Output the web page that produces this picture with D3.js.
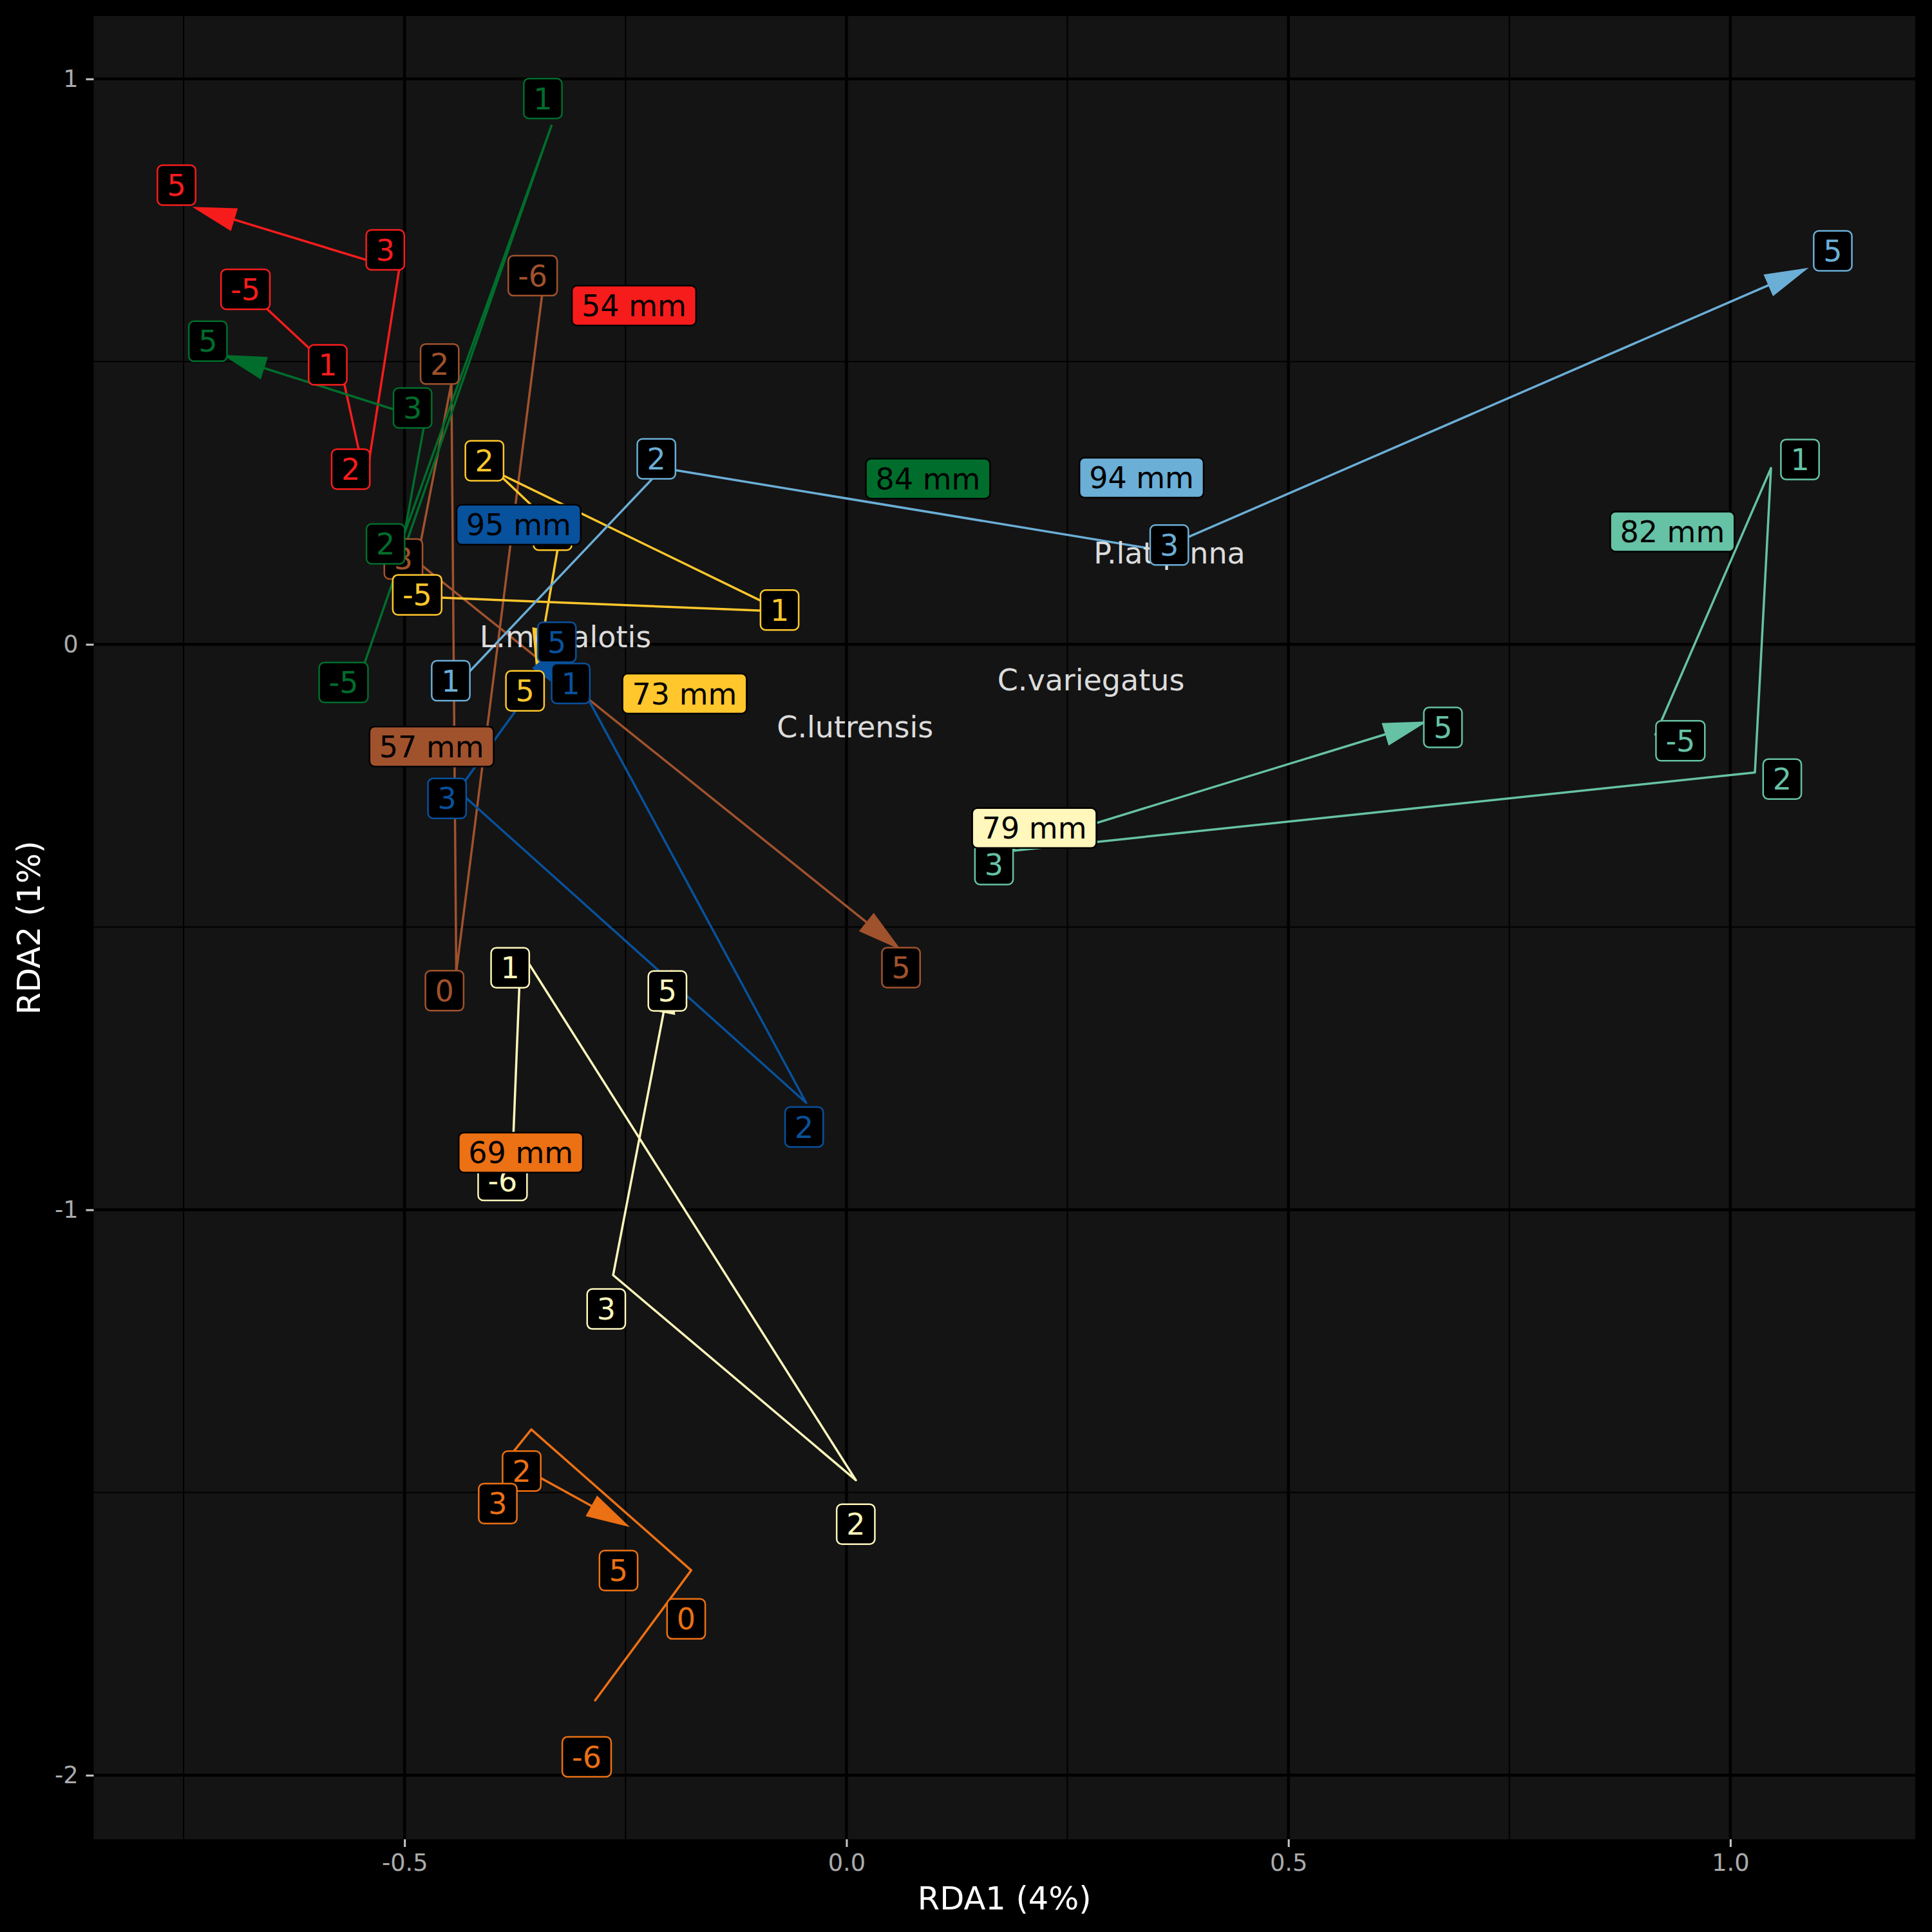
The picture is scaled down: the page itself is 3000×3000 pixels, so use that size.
<!DOCTYPE html>
<html><head><meta charset="utf-8">
<script src="https://cdn.jsdelivr.net/npm/d3@7"></script>
<style>body{margin:0;background:#000;} svg{display:block;}</style>
</head><body>
<script>
// ---------------- data ----------------
const groups = ["54 mm","57 mm","69 mm","73 mm","79 mm","82 mm","84 mm","94 mm","95 mm"];
const groupColors = ["#F71C1C","#A0522D","#EC7014","#FFC72C","#FFF7BC","#66C2A5","#006D2C","#6BAED6","#08519C"];
// sampling times (path order) per group
const times = [
  [-5,1,2,3,5],
  [-6,0,2,3,5],
  [-6,0,2,3,5],
  [-5,1,2,3,5],
  [-6,1,2,3,5],
  [-5,1,2,3,5],
  [-5,1,2,3,5],
  [1,2,3,5],
  [1,2,3,5]
];
// site scores (RDA1, RDA2) per group, in path order
const rda1 = [
  [-0.6796,-0.5690,-0.5439,-0.5062,-0.7355],
  [-0.3420,-0.4415,-0.4470,-0.4860,0.0575],
  [-0.2850,-0.1757,-0.3566,-0.3840,-0.2493],
  [-0.4857,-0.0718,-0.3956,-0.3236,-0.3500],
  [-0.3784,-0.3685,0.0106,-0.2640,-0.1985],
  [0.9148,1.0460,1.0278,0.1765,0.6524],
  [-0.5478,-0.3338,-0.5000,-0.4766,-0.7014],
  [-0.4340,-0.2082,0.3531,1.0841],
  [-0.3006,-0.0456,-0.4395,-0.3187]
];
const rda2 = [
  [0.6281,0.4670,0.2875,0.6622,0.7715],
  [0.6476,-0.5795,0.4614,0.1466,-0.5351],
  [-1.8689,-1.6376,-1.3884,-1.4416,-1.5573],
  [0.0843,0.0581,0.3042,0.1975,-0.0426],
  [-0.9276,-0.5419,-1.4782,-1.1155,-0.5825],
  [-0.1610,0.3118,-0.2265,-0.3669,-0.1386],
  [-0.0445,0.9174,0.1969,0.3978,0.5097],
  [-0.0604,0.3118,0.1670,0.6629],
  [-0.0726,-0.8108,-0.2587,0.0030]
];
// repelled positions of the time labels (data units)
const timeLabelRda1 = [
  [-0.6800,-0.5869,-0.5609,-0.5218,-0.7580],
  [-0.3550,-0.4548,-0.4603,-0.5013,0.0617],
  [-0.2939,-0.1814,-0.3675,-0.3945,-0.2579],
  [-0.4857,-0.0757,-0.4096,-0.3325,-0.3637],
  [-0.3891,-0.3805,0.0105,-0.2718,-0.2026],
  [0.9435,1.0788,1.0587,0.1669,0.6748],
  [-0.5690,-0.3435,-0.5215,-0.4909,-0.7225],
  [-0.4477,-0.2151,0.3652,1.1159],
  [-0.3120,-0.0479,-0.4519,-0.3277]
];
const timeLabelRda2 = [
  [0.6280,0.4944,0.3098,0.6977,0.8122],
  [0.6520,-0.6125,0.4959,0.1511,-0.5718],
  [-1.9675,-1.7235,-1.4620,-1.5196,-1.6380],
  [0.0876,0.0608,0.3246,0.2020,-0.0822],
  [-0.9481,-0.5719,-1.5559,-1.1754,-0.6130],
  [-0.1706,0.3269,-0.2383,-0.3895,-0.1468],
  [-0.0674,0.9653,0.1777,0.4181,0.5361],
  [-0.0644,0.3281,0.1757,0.6959],
  [-0.0690,-0.8535,-0.2723,0.0038]
];
// group (length) label positions
const groupLabelRda1 = [-0.2404,-0.4694,-0.3685,-0.1832,0.2125,0.9344,0.0922,0.3338,-0.3709];
const groupLabelRda2 = [0.5992,-0.1806,-0.8987,-0.0870,-0.3247,0.1995,0.2931,0.2948,0.2117];
// species scores
const species = ["L.megalotis","C.lutrensis","C.variegatus","P.latipinna"];
const speciesRda1 = [-0.3180,0.0097,0.2766,0.3655];
const speciesRda2 = [0.0144,-0.1451,-0.0620,0.1614];
// axes
const xTicks = [-0.5,0,0.5,1.0];
const yTicks = [1,0,-1,-2];
const xMinor = [-0.75,-0.25,0.25,0.75];
const yMinor = [0.5,-0.5,-1.5];
const xTitle = "RDA1 (4%)";
const yTitle = "RDA2 (1%)";

// ---------------- drawing ----------------
const W = 3000, H = 3000;
const FONT = "DejaVu Sans";
const svg = d3.select("body").append("svg").attr("width", W).attr("height", H);
svg.append("rect").attr("width", W).attr("height", H).attr("fill", "#000");

const P = {left: 145.5, right: 2974, top: 25, bottom: 2856};
const x = d3.scaleLinear().domain([-0.8517, 1.2092]).range([P.left, P.right]);
const y = d3.scaleLinear().domain([-2.1132, 1.1111]).range([P.bottom, P.top]);

svg.append("rect").attr("x", P.left).attr("y", P.top)
  .attr("width", P.right - P.left).attr("height", P.bottom - P.top).attr("fill", "#141414");

const grid = svg.append("g");
grid.selectAll(".xm").data(xMinor).enter().append("line")
  .attr("x1", d => x(d)).attr("x2", d => x(d)).attr("y1", P.top).attr("y2", P.bottom)
  .attr("stroke", "#000").attr("stroke-width", 2);
grid.selectAll(".ym").data(yMinor).enter().append("line")
  .attr("y1", d => y(d)).attr("y2", d => y(d)).attr("x1", P.left).attr("x2", P.right)
  .attr("stroke", "#000").attr("stroke-width", 2);
grid.selectAll(".xM").data(xTicks).enter().append("line")
  .attr("x1", d => x(d)).attr("x2", d => x(d)).attr("y1", P.top).attr("y2", P.bottom)
  .attr("stroke", "#000").attr("stroke-width", 4.5);
grid.selectAll(".yM").data(yTicks).enter().append("line")
  .attr("y1", d => y(d)).attr("y2", d => y(d)).attr("x1", P.left).attr("x2", P.right)
  .attr("stroke", "#000").attr("stroke-width", 4.5);

// axes
const xAxis = svg.append("g").attr("transform", `translate(0,${P.bottom})`)
  .call(d3.axisBottom(x).tickValues(xTicks).tickFormat(d => d.toFixed(1)).tickSize(12).tickPadding(11));
const yAxis = svg.append("g").attr("transform", `translate(${P.left},0)`)
  .call(d3.axisLeft(y).tickValues(yTicks).tickFormat(d => String(d)).tickSize(12).tickPadding(12));
[xAxis, yAxis].forEach(a => {
  a.select(".domain").remove();
  a.selectAll(".tick line").attr("stroke", "#c8c8c8").attr("stroke-width", 3);
  a.selectAll(".tick text").attr("fill", "#ababab").attr("font-family", FONT).attr("font-size", 36.7);
});

svg.append("text").text(xTitle).attr("x", (P.left + P.right) / 2).attr("y", 2965)
  .attr("text-anchor", "middle").attr("fill", "#fff").attr("font-family", FONT).attr("font-size", 49.5);
svg.append("text").text(yTitle)
  .attr("transform", `translate(62,${(P.top + P.bottom) / 2}) rotate(-90)`)
  .attr("text-anchor", "middle").attr("fill", "#fff").attr("font-family", FONT).attr("font-size", 49.5);

// paths with arrows
const line = d3.line().x(d => x(d[0])).y(d => y(d[1]));
const pathLayer = svg.append("g");
groups.forEach((g, i) => {
  const pts = rda1[i].map((v, j) => [v, rda2[i][j]]);
  pathLayer.append("path").attr("d", line(pts)).attr("fill", "none")
    .attr("stroke", groupColors[i]).attr("stroke-width", 3.5)
    .attr("stroke-linejoin", "round").attr("stroke-linecap", "butt");
  const n = pts.length;
  const tx = x(pts[n - 1][0]), ty = y(pts[n - 1][1]);
  const px = x(pts[n - 2][0]), py = y(pts[n - 2][1]);
  const ang = Math.atan2(py - ty, px - tx);
  const L = 62, a = 15 * Math.PI / 180;
  const p1 = [tx + L * Math.cos(ang + a), ty + L * Math.sin(ang + a)];
  const p2 = [tx + L * Math.cos(ang - a), ty + L * Math.sin(ang - a)];
  pathLayer.append("path").attr("d", `M${tx},${ty}L${p1[0]},${p1[1]}L${p2[0]},${p2[1]}Z`)
    .attr("fill", groupColors[i]).attr("stroke", groupColors[i]).attr("stroke-width", 3.5)
    .attr("stroke-linejoin", "miter");
});

// species text
svg.append("g").selectAll("text").data(species).enter().append("text")
  .text(d => d).attr("x", (d, i) => x(speciesRda1[i])).attr("y", (d, i) => y(speciesRda2[i]) + 16.6)
  .attr("text-anchor", "middle").attr("fill", "#dcdcdc").attr("font-family", FONT).attr("font-size", 46);

// label helper
function drawLabel(layer, cx, cy, txt, fill, stroke, textColor) {
  const g = layer.append("g");
  const rect = g.append("rect");
  const t = g.append("text").text(txt).attr("x", cx).attr("y", cy + 16.6)
    .attr("text-anchor", "middle").attr("fill", textColor)
    .attr("font-family", FONT).attr("font-size", 46);
  const w = t.node().getComputedTextLength() + 30;
  const h = 62;
  rect.attr("x", cx - w / 2).attr("y", cy - h / 2).attr("width", w).attr("height", h)
    .attr("rx", 8).attr("ry", 8).attr("fill", fill).attr("stroke", stroke).attr("stroke-width", 2.5);
}

const labelLayer = svg.append("g");
groups.forEach((g, i) => {
  times[i].forEach((t, j) => {
    drawLabel(labelLayer, x(timeLabelRda1[i][j]), y(timeLabelRda2[i][j]), String(t),
      "#000", groupColors[i], groupColors[i]);
  });
});
const groupLayer = svg.append("g");
groups.forEach((g, i) => {
  drawLabel(groupLayer, x(groupLabelRda1[i]), y(groupLabelRda2[i]), g, groupColors[i], "#000", "#000");
});
</script>
</body></html>
